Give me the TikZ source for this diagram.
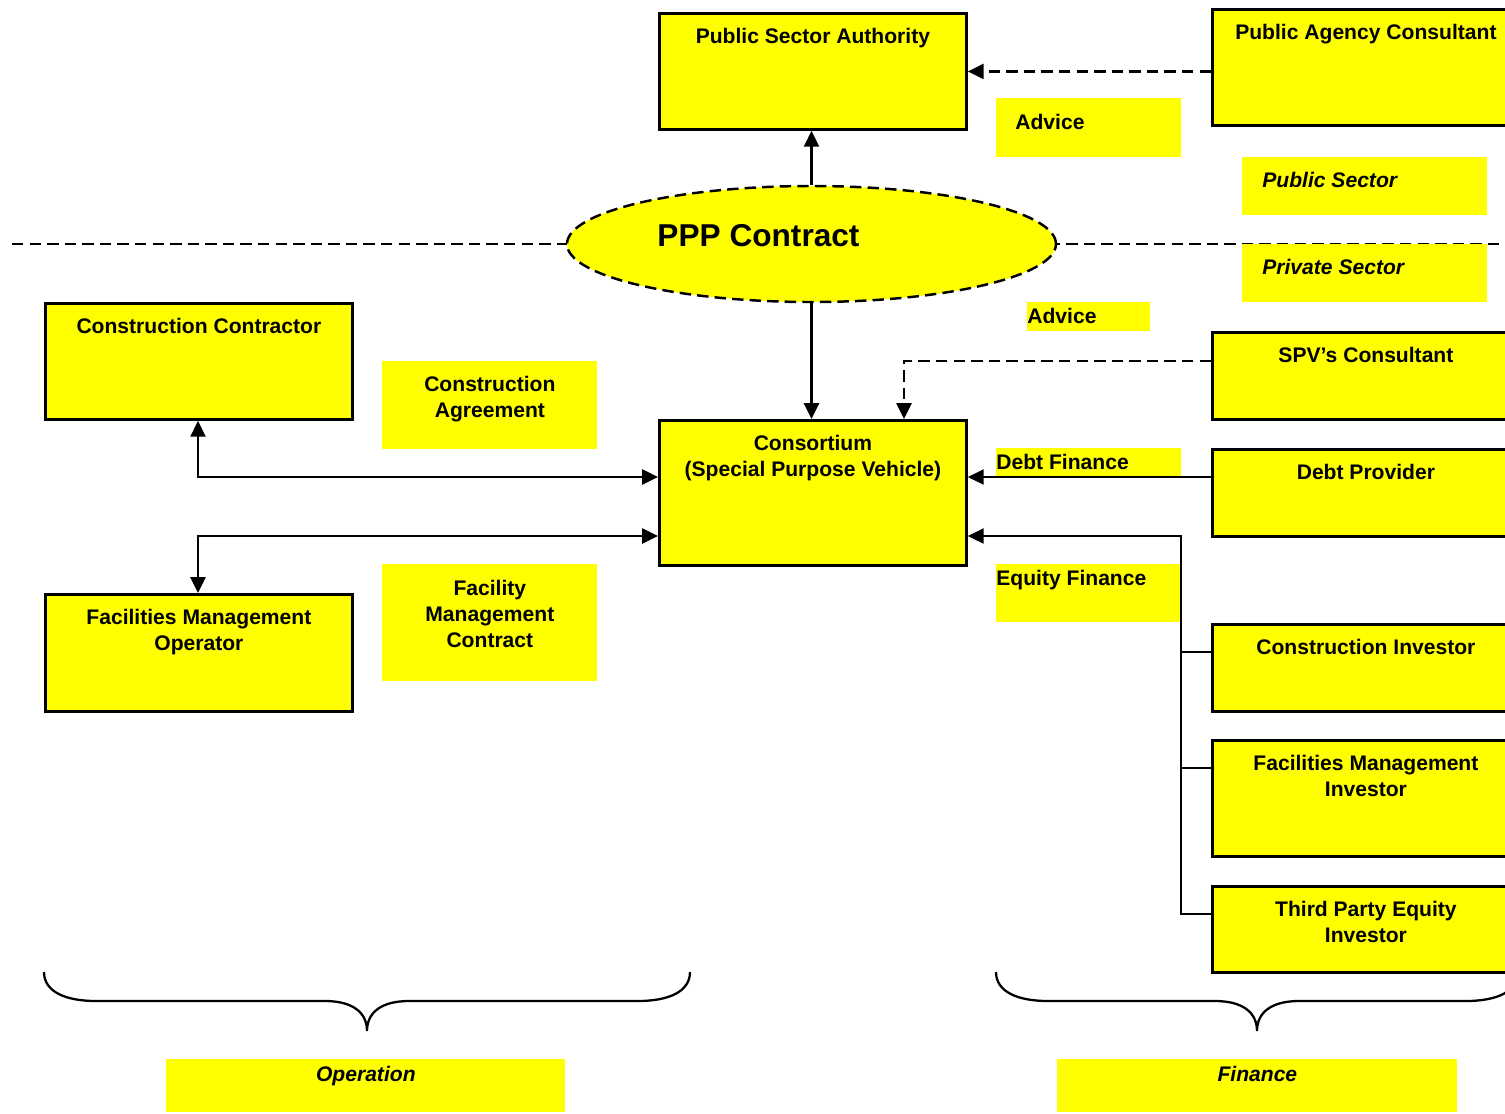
\documentclass[tikz,border=0pt]{standalone}
\usepackage{fontspec}
\setmainfont{Liberation Sans}
\usepackage{tikz}
\usetikzlibrary{shapes.geometric,arrows.meta}
\definecolor{pppyellow}{HTML}{FFFF00}
\newlength{\pix}
\setlength{\pix}{0.02cm}
\newcommand{\partyfont}{\fontsize{12}{14.8}\selectfont\bfseries}
\newcommand{\bigfont}{\fontsize{18}{22}\selectfont\bfseries}
% box text sits at the top of the box
\newcommand{\boxtext}[2]{\parbox[t][#1][t]{300\pix}{\centering\rule{0pt}{30\pix}#2}}
\newcommand{\tagtext}[5]{\parbox[t][#1][t]{#2}{#3\rule{0pt}{#4}#5}}
\tikzset
{
    party/.style    = {draw=black, line width=1.6pt, fill=pppyellow, anchor=north west, inner sep=0pt, minimum width=307\pix, font=\partyfont},
    tag/.style      = {fill=pppyellow, anchor=north west, inner sep=0pt, font=\partyfont},
    contract/.style = {ellipse, draw=black, line width=1.4pt, dash pattern=on 6.5pt off 3.5pt, fill=pppyellow, minimum width=489\pix, minimum height=116\pix, font=\bigfont},
    link/.style     = {line width=1.3pt},
    flow/.style     = {link, -{Triangle[length=9pt,width=8.5pt]}},
    both/.style     = {link, {Triangle[length=9pt,width=8.5pt]}-{Triangle[length=9pt,width=8.5pt]}},
    advice/.style   = {flow, dash pattern=on 6.5pt off 3.5pt},
    divider/.style  = {link, dash pattern=on 6.5pt off 3.5pt}
}

\begin{document}
\begin{tikzpicture}[x=0.02cm, y=-0.02cm]
\useasboundingbox (0,0) rectangle (1505,1113);

% sector line
\coordinate (secl) at (12,244);
\coordinate (secr) at (1500,244);
\draw[divider] (secl) -- (secr);

% labels
\node[tag] (advtop) at (996,98) {\tagtext{59\pix}{185\pix}{\raggedright\hspace*{19\pix}}{31\pix}{Advice}};
\node[tag] (pubsec) at (1242,157) {\tagtext{58\pix}{245\pix}{\raggedright\hspace*{20\pix}}{30\pix}{\itshape Public Sector}};
\node[tag] (privsec) at (1242,244) {\tagtext{58\pix}{245\pix}{\raggedright\hspace*{20\pix}}{30\pix}{\itshape Private Sector}};
\node[tag] (advlow) at (1027,302) {\tagtext{29\pix}{123\pix}{\raggedright}{21\pix}{Advice}};
\node[tag] (caggr) at (382,361) {\tagtext{88\pix}{215\pix}{\centering}{30\pix}{Construction\\Agreement}};
\node[tag] (fmcon) at (382,564) {\tagtext{117\pix}{215\pix}{\centering}{31\pix}{Facility\\Management\\Contract}};
\node[tag] (debtfin) at (996,448) {\tagtext{30\pix}{185\pix}{\raggedright}{21\pix}{Debt Finance}};
\node[tag] (eqfin) at (996,564) {\tagtext{58\pix}{185\pix}{\raggedright}{21\pix}{Equity Finance}};
\node[tag] (oper) at (166,1059) {\tagtext{53\pix}{399\pix}{\centering}{22\pix}{\itshape Operation}};
\node[tag] (fin) at (1057,1059) {\tagtext{53\pix}{400\pix}{\centering}{22\pix}{\itshape Finance}};

% parties
\node[contract] (ppp) at (811.5,244) {\raisebox{18\pix}{\hspace*{-106\pix}PPP Contract}};
\node[party] (psa) at (658,12) {\boxtext{116\pix}{Public Sector Authority}};
\node[party] (pac) at (1211,8) {\boxtext{116\pix}{Public Agency Consultant}};
\node[party] (spvc) at (1211,331) {\boxtext{87\pix}{SPV’s Consultant}};
\node[party] (spv) at (658,419) {\boxtext{145\pix}{Consortium\\(Special Purpose Vehicle)}};
\node[party] (cc) at (44,302) {\boxtext{116\pix}{Construction Contractor}};
\node[party] (fmo) at (44,593) {\boxtext{117\pix}{Facilities Management\\Operator}};
\node[party] (dp) at (1211,448) {\boxtext{87\pix}{Debt Provider}};
\node[party] (ci) at (1211,623) {\boxtext{87\pix}{Construction Investor}};
\node[party] (fmi) at (1211,739) {\boxtext{116\pix}{Facilities Management\\Investor}};
\node[party] (tpi) at (1211,885) {\boxtext{86\pix}{Third Party Equity\\Investor}};

% connectors
\coordinate (advj) at (904,361);
\coordinate (ccj) at (198,477);
\coordinate (fmj) at (198,536);
\coordinate (eqj) at (1181,536);
\draw[flow] (ppp.north) -- (ppp.north |- psa.south);
\draw[flow] (ppp.south) -- (ppp.south |- spv.north);
\draw[advice] (pac.west |- psa.east) -- (psa.east);
\draw[advice] (spvc.west |- advj) -- (advj) -- (advj |- spv.north);
\draw[both] (cc.south -| ccj) -- (ccj) -- (ccj -| spv.west);
\draw[both] (fmo.north -| fmj) -- (fmj) -- (fmj -| spv.west);
\draw[flow] (dp.west |- ccj) -- (ccj -| spv.east);
\foreach \n in {ci,fmi}
    \draw[link] ([yshift=-29\pix]\n.north west) -| (eqj);
\draw[flow] ([yshift=-29\pix]tpi.north west) -| (eqj) -- (eqj -| spv.east);

% braces
\foreach \bl/\bm/\br in {44/367/690,996/1257/1518}
    \draw[link] (\bl,972) .. controls (\bl,992) and (\bl+22,1001) .. (\bl+52,1001) -- (\bm-42,1001)
        .. controls (\bm-15,1001) and (\bm,1012) .. (\bm,1031)
        .. controls (\bm,1012) and (\bm+15,1001) .. (\bm+42,1001) -- (\br-52,1001)
        .. controls (\br-22,1001) and (\br,992) .. (\br,972);
\end{tikzpicture}
\end{document}
